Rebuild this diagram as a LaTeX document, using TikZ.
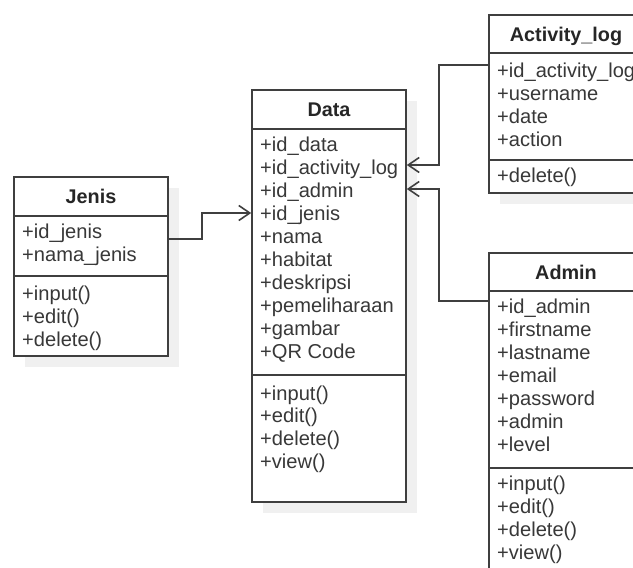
\documentclass[tikz,border=0pt]{standalone}
\usepackage{fontspec}
\setmainfont{Liberation Sans}
\usetikzlibrary{arrows.meta, positioning, shadows}
\definecolor{umlline}{HTML}{3F3F3F}
\definecolor{umltext}{HTML}{383838}
\definecolor{umlshadow}{HTML}{F0F0F0}

\begin{document}
\begin{tikzpicture}[
  x=1pt, y=-1pt,
  classbox/.style={draw=umlline, fill=white, line width=1.6pt,
    minimum width=154pt, inner sep=0pt,
    drop shadow={shadow xshift=11pt, shadow yshift=-11pt,
      fill=umlshadow, opacity=1}},
  title/.style={font=\fontsize{19.8}{23}\selectfont\bfseries,
    text=black!85, anchor=base, inner sep=0pt},
  member/.style={font=\fontsize{20.1}{23}\selectfont, text=umltext,
    anchor=base west, inner sep=0pt},
  divider/.style={draw=umlline, line width=1.6pt},
  assoc/.style={draw=umlline, line width=1.6pt,
    -{Straight Barb[length=11pt, width=15pt]}}
]
  \useasboundingbox (0,0) rectangle (633,568);
  \clip (0,0) rectangle (633,568);

  % Jenis class
  \node[classbox, minimum height=179pt] (jenis) at (91, 266.5) {};
  \node[title] (jenis-title) at (91, 203.5) {Jenis};
  \draw[divider] (jenis.west |- 0,216) -- (jenis.east |- 0,216);
  \draw[divider] (jenis.west |- 0,276) -- (jenis.east |- 0,276);
  \foreach \m [count=\i from 0] in {+id\_jenis, +nama\_jenis}
    \node[member] (jenis-a\i) at (22, 238+23*\i) {\m};
  \foreach \m [count=\i from 0] in {+input(), +edit(), +delete()}
    \node[member] (jenis-m\i) at (22, 300+23*\i) {\m};

  % Data class
  \node[classbox, minimum height=412pt] (data) at (329, 296) {};
  \node[title] (data-title) at (329, 116.5) {Data};
  \draw[divider] (data.west |- 0,129) -- (data.east |- 0,129);
  \draw[divider] (data.west |- 0,375) -- (data.east |- 0,375);
  \foreach \m [count=\i from 0] in {+id\_data, +id\_activity\_log,
    +id\_admin, +id\_jenis, +nama, +habitat, +deskripsi,
    +pemeliharaan, +gambar, +QR Code}
    \node[member] (data-a\i) at (260, 151+23.1*\i) {\m};
  \foreach \m [count=\i from 0] in {+input(), +edit(), +delete(), +view()}
    \node[member] (data-m\i) at (260, 400+22.8*\i) {\m};

  % Activity_log class
  \node[classbox, minimum height=178pt] (activitylog) at (566, 104) {};
  \node[title] (activitylog-title) at (566, 41) {Activity\_log};
  \draw[divider] (activitylog.west |- 0,53) -- (activitylog.east |- 0,53);
  \draw[divider] (activitylog.west |- 0,160) -- (activitylog.east |- 0,160);
  \foreach \m [count=\i from 0] in {+id\_activity\_log, +username,
    +date, +action}
    \node[member] (activitylog-a\i) at (497, 77+23*\i) {\m};
  \node[member] (activitylog-m0) at (497, 182) {+delete()};

  % Admin class
  \node[classbox, minimum height=332pt] (admin) at (566, 419) {};
  \node[title] (admin-title) at (566, 279) {Admin};
  \draw[divider] (admin.west |- 0,291) -- (admin.east |- 0,291);
  \draw[divider] (admin.west |- 0,468) -- (admin.east |- 0,468);
  \foreach \m [count=\i from 0] in {+id\_admin, +firstname, +lastname,
    +email, +password, +admin, +level}
    \node[member] (admin-a\i) at (497, 313+23*\i) {\m};
  \foreach \m [count=\i from 0] in {+input(), +edit(), +delete(), +view()}
    \node[member] (admin-m\i) at (497, 490+23*\i) {\m};

  % Associations
  \draw[assoc] (jenis.east |- 0,239) -| (202,213) -- (data.west |- 0,213);
  \draw[assoc] (activitylog.west |- 0,65) -| (439,165) -- (data.east |- 0,165);
  \draw[assoc] (admin.west |- 0,301) -| (439,189) -- (data.east |- 0,189);
\end{tikzpicture}
\end{document}
